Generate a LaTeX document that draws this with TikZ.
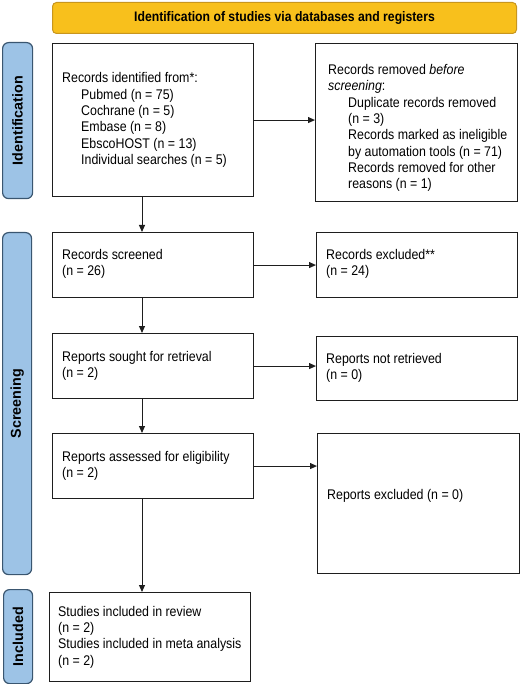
\documentclass[tikz,border=0pt]{standalone}
\usepackage{fontspec}
\setmainfont{Liberation Sans}[FakeStretch=0.885]
\newfontfamily\sidefont{Liberation Sans}
\usetikzlibrary{arrows.meta,calc}
\definecolor{bannerfill}{HTML}{F8C01C}
\definecolor{bannerline}{HTML}{C8961E}
\definecolor{sidefill}{HTML}{9DC3E6}
\definecolor{sideline}{HTML}{3A5670}
\definecolor{boxline}{HTML}{1E1E1E}
\newcommand\bodysize{\fontsize{14}{16.3}\selectfont}
\newcommand\ind{\hspace*{19pt}}
\begin{document}
\begin{tikzpicture}[x=1pt,y=-1pt,
  stagebox/.style={draw=boxline, line width=1.1pt, rectangle, inner sep=0pt, anchor=north west},
  txt/.style={anchor=west, align=left, inner sep=0pt, font=\bodysize, text=black},
  sidebox/.style={draw=sideline, fill=sidefill, line width=1.2pt, rounded corners=6pt, inner sep=0pt, anchor=north west},
  sidetxt/.style={rotate=90, font=\sidefont\bfseries\fontsize{14.3}{16}\selectfont, inner sep=0pt},
  arr/.style={line width=1pt, draw=boxline, -{Triangle[length=7pt,width=6pt]}}]
\useasboundingbox (0,0) rectangle (520,684);

% banner
\node[draw=bannerline, fill=bannerfill, line width=1pt, rounded corners=4pt, inner sep=0pt,
  anchor=north west, minimum width=464pt, minimum height=31pt,
  font=\bfseries\fontsize{13.8}{16}\selectfont] (banner) at (52,2)
  {Identification of studies via databases and registers};

% side labels
\node[sidebox, minimum width=30pt, minimum height=156pt] (sid) at (2,42) {};
\node[sidetxt] (sidt) at (sid.center) {Identification};
\node[sidebox, minimum width=29pt, minimum height=342pt] (sscr) at (2,232) {};
\node[sidetxt] (sscrt) at (sscr.center) {Screening};
\node[sidebox, minimum width=29pt, minimum height=94pt] (sinc) at (3,589) {};
\node[sidetxt] (sinct) at (sinc.center) {Included};

% boxes
\node[stagebox, minimum width=201pt, minimum height=153pt] (b1) at (52,43) {};
\node[stagebox, minimum width=202pt, minimum height=158pt] (b2) at (315,43) {};
\node[stagebox, minimum width=201pt, minimum height=65pt] (b3) at (52,232) {};
\node[stagebox, minimum width=201pt, minimum height=65pt] (b4) at (316,232) {};
\node[stagebox, minimum width=201pt, minimum height=65pt] (b5) at (52,333) {};
\node[stagebox, minimum width=201pt, minimum height=64pt] (b6) at (316,336) {};
\node[stagebox, minimum width=201pt, minimum height=65pt] (b7) at (52,433) {};
\node[stagebox, minimum width=202pt, minimum height=140pt] (b8) at (317,433) {};
\node[stagebox, minimum width=201pt, minimum height=89pt] (b9) at (49,592) {};

% texts
\node[txt] (t1) at ($(b1.west)+(10,0)$) {Records identified from*:\\
  \ind Pubmed (n = 75)\\
  \ind Cochrane (n = 5)\\
  \ind Embase (n = 8)\\
  \ind EbscoHOST (n = 13)\\
  \ind Individual searches (n = 5)};
\node[txt] (t2) at ($(b2.west)+(13,5.5)$) {Records removed \textit{before}\\
  \textit{screening}:\\
  \hspace*{20pt}Duplicate records removed\\
  \hspace*{20pt}(n = 3)\\
  \hspace*{20pt}Records marked as ineligible\\
  \hspace*{20pt}by automation tools (n = 71)\\
  \hspace*{20pt}Records removed for other\\
  \hspace*{20pt}reasons (n = 1)};
\node[txt] (t3) at ($(b3.west)+(10,-1)$) {Records screened\\(n = 26)};
\node[txt] (t4) at ($(b4.west)+(10,-1)$) {Records excluded**\\(n = 24)};
\node[txt] (t5) at ($(b5.west)+(10,0)$) {Reports sought for retrieval\\(n = 2)};
\node[txt] (t6) at ($(b6.west)+(10,-1)$) {Reports not retrieved\\(n = 0)};
\node[txt] (t7) at ($(b7.west)+(10,0)$) {Reports assessed for eligibility\\(n = 2)};
\node[txt] (t8) at ($(b8.west)+(10,-8)$) {Reports excluded (n = 0)};
\node[txt] (t9) at ($(b9.west)+(9,0)$) {Studies included in review\\(n = 2)\\Studies included in meta analysis\\(n = 2)};

% connectors
\coordinate (vx) at (142,0);
\draw[arr] (b1.east) -- (b1.east -| b2.west);
\draw[arr] (b3.east) -- (b3.east -| b4.west);
\draw[arr] (b5.east) -- (b5.east -| b6.west);
\draw[arr] (b7.east) -- (b7.east -| b8.west);
\draw[arr] (b1.south -| vx) -- (b3.north -| vx);
\draw[arr] (b3.south -| vx) -- (b5.north -| vx);
\draw[arr] (b5.south -| vx) -- (b7.north -| vx);
\draw[arr] (b7.south -| vx) -- (b9.north -| vx);
\end{tikzpicture}
\end{document}
